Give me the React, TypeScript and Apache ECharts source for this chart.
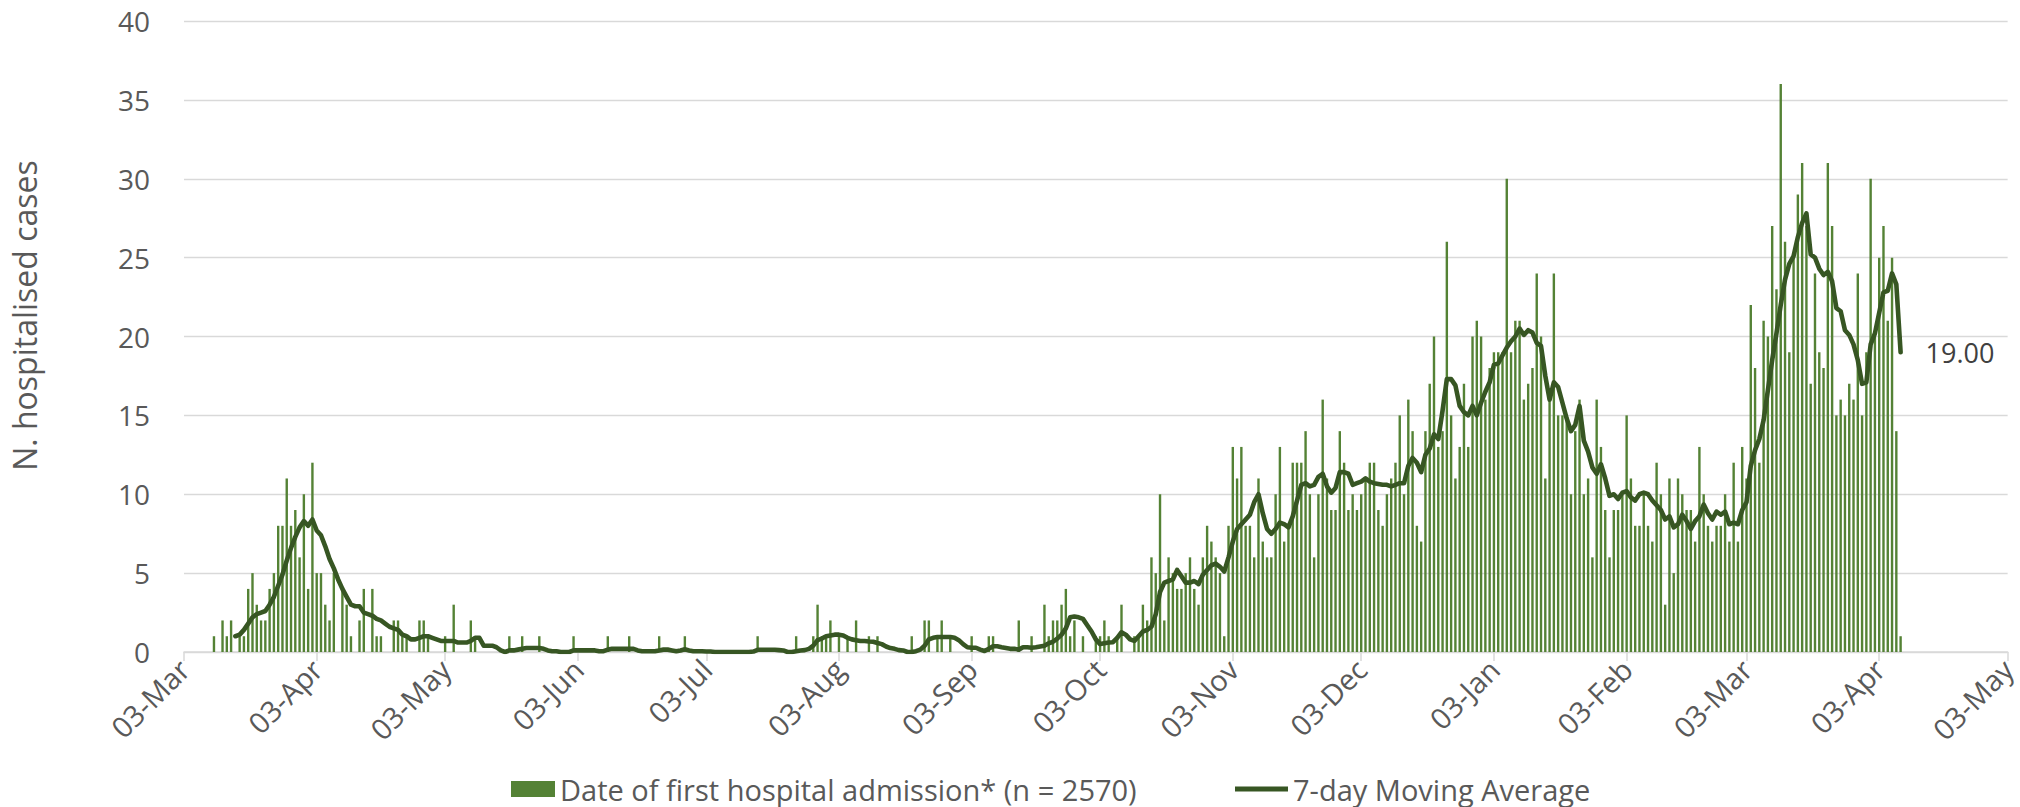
import React, { useEffect, useRef } from 'react';
import * as echarts from 'echarts';

// ---------- categories: one per day, 03-Mar-2020 .. 03-May-2021 ----------
const FIRST_DAY_UTC = Date.UTC(2020, 2, 3);
const DAY_COUNT = 427;
const MONTH_ABBR = ['Jan', 'Feb', 'Mar', 'Apr', 'May', 'Jun', 'Jul', 'Aug', 'Sep', 'Oct', 'Nov', 'Dec'];
const categories: string[] = [];
for (let i = 0; i < DAY_COUNT; i++) {
  const d = new Date(FIRST_DAY_UTC + i * 86400000);
  const mm = String(d.getUTCMonth() + 1).padStart(2, '0');
  const dd = String(d.getUTCDate()).padStart(2, '0');
  categories.push(`${d.getUTCFullYear()}-${mm}-${dd}`);
}

// ---------- daily admissions (bars), each array starts on the 3rd of the month ----------
const adm2020Mar = [0, 0, 0, 0, 0, 0, 0, 1, 0, 2, 1, 2, 0, 1, 1, 4, 5, 3, 2, 2, 4, 5, 8, 8, 11, 8, 9, 6, 10, 4, 12];
const adm2020Apr = [5, 5, 3, 2, 5, 0, 4, 3, 1, 0, 2, 4, 0, 4, 1, 1, 0, 0, 2, 2, 1, 1, 0, 0, 2, 2, 1, 0, 0, 0];
const adm2020May = [1, 0, 3, 0, 0, 0, 2, 1, 0, 0, 0, 0, 0, 0, 0, 1, 0, 0, 1, 0, 0, 0, 1, 0, 0, 0, 0, 0, 0, 0, 1];
const adm2020Jun = [0, 0, 0, 0, 0, 0, 0, 1, 0, 0, 0, 0, 1, 0, 0, 0, 0, 0, 0, 1, 0, 0, 0, 0, 0, 1, 0, 0, 0, 0];
const adm2020Jul = [0, 0, 0, 0, 0, 0, 0, 0, 0, 0, 0, 0, 1, 0, 0, 0, 0, 0, 0, 0, 0, 1, 0, 0, 0, 1, 3, 1, 1, 2, 0];
const adm2020Aug = [1, 0, 1, 0, 2, 0, 0, 1, 0, 1, 0, 0, 0, 0, 0, 0, 0, 1, 0, 0, 2, 2, 0, 1, 2, 0, 1, 0, 0, 0, 0];
const adm2020Sep = [1, 0, 0, 0, 1, 1, 0, 0, 0, 0, 0, 2, 0, 0, 1, 0, 0, 3, 1, 2, 2, 3, 4, 1, 2, 0, 1, 0, 0, 1];
const adm2020Oct = [1, 2, 1, 0, 1, 3, 0, 0, 1, 1, 3, 2, 6, 5, 10, 2, 6, 5, 4, 4, 5, 6, 4, 3, 6, 8, 7, 6, 5, 1, 8];
const adm2020Nov = [13, 11, 13, 8, 8, 6, 11, 7, 6, 6, 10, 13, 7, 8, 12, 12, 12, 14, 10, 6, 10, 16, 11, 9, 9, 14, 12, 9, 10, 9];
const adm2020Dec = [10, 11, 12, 12, 9, 8, 10, 11, 12, 15, 10, 16, 14, 8, 7, 14, 17, 20, 13, 14, 26, 15, 11, 13, 17, 13, 20, 21, 20, 16, 18];
const adm2021Jan = [19, 19, 19, 30, 19, 21, 21, 16, 17, 18, 24, 20, 11, 16, 24, 15, 15, 15, 10, 14, 16, 10, 11, 6, 16, 13, 9, 6, 9, 9, 10];
const adm2021Feb = [15, 11, 8, 8, 10, 8, 7, 12, 10, 3, 11, 5, 11, 10, 9, 9, 7, 13, 10, 8, 7, 8, 8, 10, 7, 12, 7, 13];
const adm2021Mar = [11, 22, 18, 12, 21, 20, 27, 23, 36, 26, 19, 25, 29, 31, 27, 17, 24, 19, 18, 31, 27, 15, 16, 15, 17, 16, 24, 15, 19, 30, 20];
const adm2021Apr = [25, 27, 21, 25, 14, 1];

// ---------- 7-day moving average (line), same month segments ----------
const N = null;
const ma2020Mar = [N, N, N, N, N, N, N, N, N, N, N, N, 1.0, 1.1, 1.4, 1.8, 2.2, 2.4, 2.5, 2.6, 3.0, 3.5, 4.2, 4.9, 5.8, 6.6, 7.3, 7.9, 8.3, 8.0, 8.4];
const ma2020Apr = [7.7, 7.4, 6.7, 5.9, 5.3, 4.6, 4.0, 3.5, 3.0, 2.9, 2.9, 2.5, 2.4, 2.3, 2.1, 2.0, 1.8, 1.6, 1.5, 1.4, 1.1, 1.0, 0.8, 0.8, 0.9, 1.0, 1.0, 0.9, 0.8, 0.7];
const ma2020May = [0.7, 0.7, 0.7, 0.6, 0.6, 0.6, 0.7, 0.9, 0.9, 0.4, 0.4, 0.4, 0.3, 0.1, 0.0, 0.1, 0.1, 0.15, 0.2, 0.25, 0.25, 0.25, 0.25, 0.2, 0.1, 0.05, 0.05, 0, 0, 0, 0.1];
const ma2020Jun = [0.1, 0.1, 0.1, 0.1, 0.1, 0.05, 0.05, 0.15, 0.2, 0.2, 0.2, 0.2, 0.2, 0.2, 0.1, 0.05, 0.05, 0.05, 0.05, 0.1, 0.15, 0.15, 0.1, 0.05, 0.1, 0.17, 0.1, 0.05, 0.05, 0.05];
const ma2020Jul = [0.03, 0.03, 0, 0, 0, 0, 0, 0, 0, 0, 0, 0.03, 0.14, 0.14, 0.14, 0.14, 0.14, 0.12, 0.1, 0, 0, 0.05, 0.1, 0.12, 0.2, 0.4, 0.75, 0.85, 1.0, 1.05, 1.1];
const ma2020Aug = [1.1, 1.05, 0.9, 0.8, 0.75, 0.7, 0.7, 0.67, 0.65, 0.57, 0.5, 0.35, 0.25, 0.2, 0.12, 0.1, 0, 0, 0.05, 0.15, 0.4, 0.8, 0.9, 0.95, 0.95, 0.95, 0.95, 0.9, 0.75, 0.5, 0.3];
const ma2020Sep = [0.27, 0.27, 0.15, 0.06, 0.2, 0.36, 0.36, 0.3, 0.25, 0.2, 0.2, 0.15, 0.3, 0.3, 0.27, 0.3, 0.35, 0.4, 0.55, 0.65, 0.85, 1.1, 1.5, 2.2, 2.25, 2.2, 2.1, 1.7, 1.3, 0.8];
const ma2020Oct = [0.5, 0.55, 0.6, 0.62, 0.9, 1.25, 1.1, 0.8, 0.7, 1.0, 1.3, 1.4, 1.6, 2.4, 3.8, 4.4, 4.5, 4.6, 5.2, 4.8, 4.4, 4.4, 4.5, 4.3, 4.9, 5.2, 5.5, 5.6, 5.4, 5.1, 6.0];
const ma2020Nov = [7.0, 7.8, 8.1, 8.4, 8.7, 9.5, 10.0, 8.8, 7.8, 7.5, 7.8, 8.2, 8.1, 7.9, 8.6, 9.6, 10.6, 10.7, 10.5, 10.6, 11.1, 11.3, 10.5, 10.1, 10.4, 11.4, 11.4, 11.3, 10.6, 10.7];
const ma2020Dec = [10.8, 11.0, 10.8, 10.7, 10.65, 10.6, 10.6, 10.5, 10.6, 10.7, 10.7, 11.8, 12.3, 12.0, 11.4, 12.5, 12.9, 13.8, 13.5, 15.3, 17.3, 17.3, 16.9, 15.6, 15.2, 15.0, 15.6, 15.0, 15.8, 16.5, 17.1];
const ma2021Jan = [18.2, 18.3, 18.8, 19.3, 19.7, 20.0, 20.5, 20.1, 20.4, 20.25, 19.6, 19.4, 17.5, 16.0, 17.1, 16.8, 15.8, 14.8, 14.0, 14.4, 15.6, 13.4, 12.7, 11.7, 11.3, 11.9, 11.0, 9.9, 10.0, 9.7, 10.1];
const ma2021Feb = [10.2, 9.8, 9.6, 10.0, 10.1, 10.0, 9.6, 9.3, 9.0, 8.4, 8.6, 7.9, 8.1, 8.7, 8.3, 7.8, 8.3, 8.6, 9.35, 8.8, 8.4, 8.9, 8.7, 8.9, 8.1, 8.2, 8.1, 9.0];
const ma2021Mar = [9.5, 11.8, 12.8, 13.5, 14.7, 16.6, 18.5, 20.2, 22.0, 23.6, 24.6, 25.1, 26.3, 27.2, 27.8, 25.2, 25.0, 24.3, 23.9, 24.1, 23.5, 21.8, 21.6, 20.4, 20.1, 19.5, 18.5, 17.0, 17.1, 19.5, 20.2];
const ma2021Apr = [21.5, 22.8, 22.9, 24.0, 23.3, 19.0];

const BAR_NAME = 'Date of first hospital admission* (n = 2570)';
const LINE_NAME = '7-day Moving Average';
const Y_TITLE = 'N. hospitalised cases';
const Y_MIN = 0;
const Y_MAX = 40;
const Y_STEP = 5;

const admissions: number[] = ([] as number[]).concat(
  adm2020Mar, adm2020Apr, adm2020May, adm2020Jun, adm2020Jul, adm2020Aug, adm2020Sep,
  adm2020Oct, adm2020Nov, adm2020Dec, adm2021Jan, adm2021Feb, adm2021Mar, adm2021Apr
);
const movingAvg: (number | null)[] = ([] as (number | null)[]).concat(
  ma2020Mar, ma2020Apr, ma2020May, ma2020Jun, ma2020Jul, ma2020Aug, ma2020Sep,
  ma2020Oct, ma2020Nov, ma2020Dec, ma2021Jan, ma2021Feb, ma2021Mar, ma2021Apr
);

const FONT = "'Open Sans', 'Noto Sans', sans-serif";
const TEXT_COLOR = '#595959';
const GRID_COLOR = '#d9d9d9';
const BAR_COLOR = '#548235';
const LINE_COLOR = '#375623';

const isThird = (_i: number, v: string) => v.slice(8, 10) === '03';
const fmtLabel = (v: string) => `${v.slice(8, 10)}-${MONTH_ABBR[parseInt(v.slice(5, 7), 10) - 1]}`;

export default function App() {
  const ref = useRef<HTMLDivElement>(null);
  useEffect(() => {
    if (!ref.current) return;
    const chart = echarts.init(ref.current, undefined, { renderer: 'svg' });
    const lastIdx = movingAvg.length - 1;
    const lineData = movingAvg.map((v, i) =>
      i === lastIdx
        ? {
            value: v,
            symbol: 'circle',
            symbolSize: 2,
            label: {
              show: true,
              position: 'right',
              distance: 24,
              formatter: (p: any) => Number(p.value).toFixed(2),
              fontSize: 27,
              fontFamily: FONT,
              color: '#404040',
            },
          }
        : v
    );
    chart.setOption({
      animation: false,
      textStyle: { fontFamily: FONT },
      grid: { left: 176, right: 12, top: 21, bottom: 155, containLabel: false },
      legend: [
        {
          data: [{ name: BAR_NAME, icon: 'rect' }],
          left: 506,
          top: 768,
          itemWidth: 44,
          itemHeight: 16,
          textStyle: { fontSize: 29, color: TEXT_COLOR, fontFamily: FONT, lineHeight: 32 },
        },
        {
          data: [{ name: LINE_NAME, icon: 'rect', itemStyle: { color: LINE_COLOR } }],
          left: 1230,
          top: 768,
          itemWidth: 53,
          itemHeight: 5,
          textStyle: { fontSize: 29, color: TEXT_COLOR, fontFamily: FONT, lineHeight: 32 },
        },
      ],
      xAxis: {
        type: 'category',
        data: categories,
        boundaryGap: false,
        axisLine: { show: true, lineStyle: { color: GRID_COLOR, width: 1.5 } },
        axisTick: { show: true, interval: isThird, length: 9, lineStyle: { color: GRID_COLOR, width: 1.5 } },
        axisLabel: {
          interval: isThird,
          rotate: 45,
          formatter: fmtLabel,
          fontSize: 29,
          color: TEXT_COLOR,
          fontFamily: FONT,
          margin: 12,
        },
        splitLine: { show: false },
      },
      yAxis: {
        type: 'value',
        min: Y_MIN,
        max: Y_MAX,
        interval: Y_STEP,
        name: Y_TITLE,
        nameLocation: 'middle',
        nameRotate: 90,
        nameGap: 144,
        nameTextStyle: { fontSize: 32, color: TEXT_COLOR, fontFamily: FONT, padding: [0, 0, 0, 42] },
        axisLabel: { fontSize: 28, color: TEXT_COLOR, fontFamily: FONT, margin: 34, lineHeight: 20 },
        axisLine: { show: false },
        axisTick: { show: false },
        splitLine: { lineStyle: { color: GRID_COLOR, width: 1.3 } },
      },
      series: [
        {
          type: 'bar',
          name: BAR_NAME,
          data: admissions,
          barWidth: '56%',
          itemStyle: { color: BAR_COLOR },
          emphasis: { disabled: true },
        },
        {
          type: 'line',
          name: LINE_NAME,
          data: lineData,
          symbol: 'none',
          showSymbol: true,
          showAllSymbol: true,
          connectNulls: false,
          lineStyle: { color: LINE_COLOR, width: 4.6, join: 'round', cap: 'round' },
          itemStyle: { color: LINE_COLOR },
          emphasis: { disabled: true },
          z: 3,
        },
      ],
    });
    return () => chart.dispose();
  }, []);
  return (
    <div
      ref={ref}
      style={{ position: 'absolute', left: 0, top: 0, width: 2020, height: 807 }}
    />
  );
}
